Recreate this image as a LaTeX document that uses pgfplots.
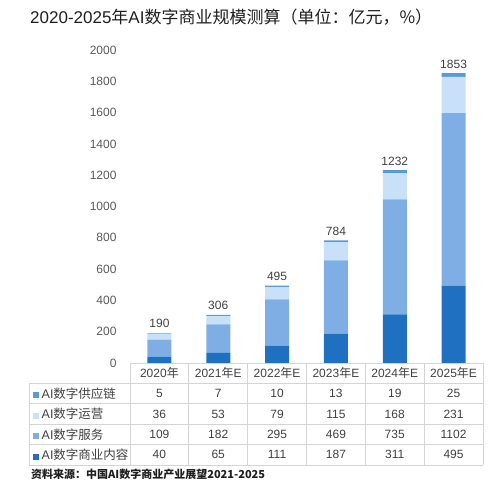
\documentclass[border=0pt]{standalone}
\usepackage{pgfplots}
\pgfplotsset{compat=1.18}
\usepackage{pgfplotstable}
\usepackage{fontspec}
\setmainfont{Liberation Sans}
\newfontfamily\cjk{Noto Sans CJK SC}
\newcommand\cj[1]{{\cjk #1}}

\definecolor{cContent}{HTML}{1F70C1}
\definecolor{cService}{HTML}{7EAEE3}
\definecolor{cOps}{HTML}{C8E0F8}
\definecolor{cSupply}{HTML}{5B9BD5}
\definecolor{gridgray}{HTML}{D4D4D4}
\definecolor{tickgray}{HTML}{595959}
\definecolor{tabtext}{HTML}{404040}

\pgfplotstableread{
x content service ops supply total
0 40  109  36  5  190
1 65  182  53  7  306
2 111 295  79  10 495
3 187 469  115 13 784
4 311 735  168 19 1232
5 495 1102 231 25 1853
}\data

\begin{document}
\begin{tikzpicture}
\useasboundingbox (-130pt,-131pt) rectangle (370pt,363pt);

% bars
\begin{axis}[
    name=bars, at={(0,0)}, anchor=south west,
    scale only axis, width=353pt, height=313pt,
    xmin=-0.5, xmax=5.5, ymin=0, ymax=2000,
    ytick={0,200,...,2000},
    xtick={0,...,5},
    xticklabels={2020\cj{年},2021\cj{年}E,2022\cj{年}E,2023\cj{年}E,2024\cj{年}E,2025\cj{年}E},
    ybar stacked, bar width=24pt,
    axis line style={draw=none},
    major tick length=0pt,
    tick label style={font=\fontsize{12}{14}\selectfont, text=tickgray},
    yticklabel style={xshift=-10pt},
    xticklabel style={anchor=base, yshift=-14.3pt, text=tabtext},
    /pgf/number format/assume math mode=true,
    /pgf/number format/1000 sep={},
    clip=false,
]
\addplot[fill=cContent, draw=none] table[x=x, y=content] {\data};
\addplot[fill=cService, draw=none] table[x=x, y=service] {\data};
\addplot[fill=cOps, draw=none] table[x=x, y=ops] {\data};
\addplot[fill=cSupply, draw=none, nodes near coords, point meta=explicit symbolic,
    every node near coord/.append style={font=\fontsize{12}{14}\selectfont, text=tabtext, anchor=base, yshift=6pt}]
    table[x=x, y=supply, meta=total] {\data};
\end{axis}

% data table
\begin{axis}[
    name=tab, at={(0,0)}, anchor=north west,
    scale only axis, width=353pt, height=102pt,
    xmin=-0.5, xmax=5.5, ymin=0, ymax=5,
    hide axis, clip=false,
    every node near coord/.style={anchor=center, font=\fontsize{12}{14}\selectfont, text=tabtext},
]
\pgfplotsinvokeforeach{0,...,4}{
  \draw[gridgray, line width=0.8pt] (axis cs:-2.217,#1) -- (axis cs:5.5,#1);
}
\draw[gridgray, line width=0.8pt] (axis cs:-0.5,5) -- (axis cs:5.5,5);
\draw[gridgray, line width=0.8pt] (axis cs:-2.217,0) -- (axis cs:-2.217,4);
\pgfplotsinvokeforeach{-0.5,0.5,1.5,2.5,3.5,4.5,5.5}{
  \draw[gridgray, line width=0.8pt] (axis cs:#1,0) -- (axis cs:#1,5);
}
\addplot[draw=none, mark=none, nodes near coords, point meta=explicit symbolic]
    table[x=x, y expr=0.5, meta=content] {\data};
\addplot[draw=none, mark=none, nodes near coords, point meta=explicit symbolic]
    table[x=x, y expr=1.5, meta=service] {\data};
\addplot[draw=none, mark=none, nodes near coords, point meta=explicit symbolic]
    table[x=x, y expr=2.5, meta=ops] {\data};
\addplot[draw=none, mark=none, nodes near coords, point meta=explicit symbolic]
    table[x=x, y expr=3.5, meta=supply] {\data};

\begin{scope}[every node/.style={anchor=west, inner sep=0pt, font=\fontsize{12.5}{14}\selectfont, text=tabtext}]
\node at (axis cs:-2.217,3.5) {\hspace{4pt}\textcolor{cSupply}{\rule{6pt}{6pt}}\hspace{2.5pt}AI\cj{数字供应链}};
\node at (axis cs:-2.217,2.5) {\hspace{4pt}\textcolor{cOps}{\rule{6pt}{6pt}}\hspace{2.5pt}AI\cj{数字运营}};
\node at (axis cs:-2.217,1.5) {\hspace{4pt}\textcolor{cService}{\rule{6pt}{6pt}}\hspace{2.5pt}AI\cj{数字服务}};
\node at (axis cs:-2.217,0.5) {\hspace{4pt}\textcolor{cContent}{\rule{6pt}{6pt}}\hspace{2.5pt}AI\cj{数字商业内容}};
\end{scope}
\end{axis}

\node[anchor=west, inner sep=0pt, font=\fontsize{17}{20}\selectfont, text=black!88] at (-100pt,346pt)
  {2020-2025\cj{年}AI\cj{数字商业规模测算（单位：亿元，\%）}};
\node[anchor=west, inner sep=0pt, font=\fontsize{11}{13}\selectfont, text=black!88] at (-99pt,-111pt)
  {\cj{\bfseries 资料来源：中国AI数字商业产业展望2021-2025}};
\end{tikzpicture}
\end{document}
